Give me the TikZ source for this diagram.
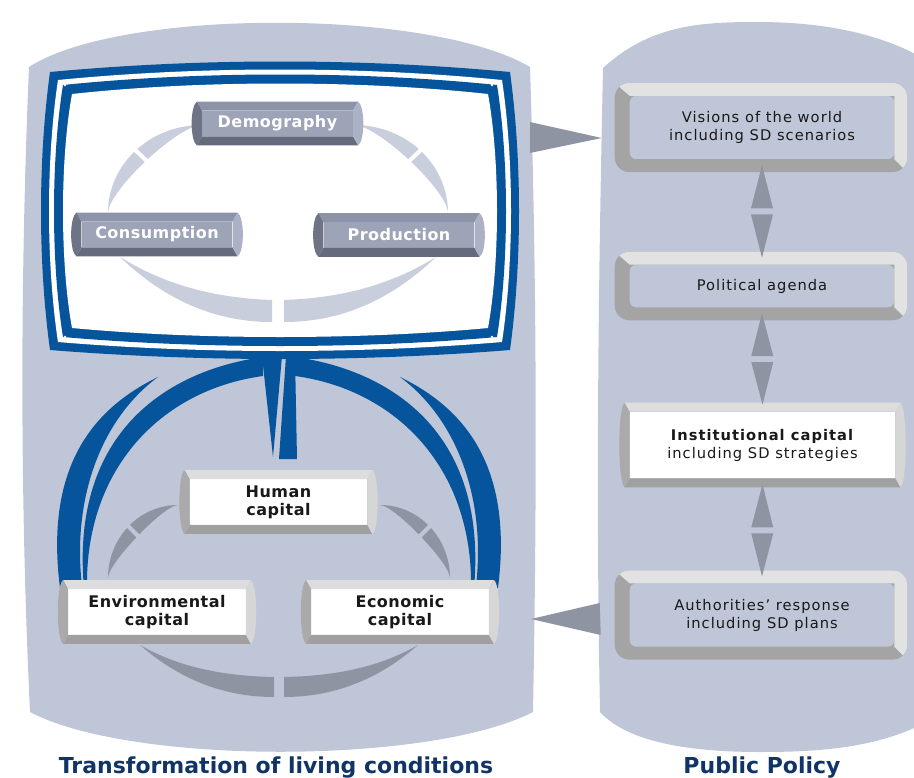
\documentclass[tikz,border=0pt]{standalone}
\usepackage{fontspec}
\setmainfont{DejaVu Sans}
\newfontfamily\boxfont{DejaVu Sans}[LetterSpace=7]
\newfontfamily\capfont{DejaVu Sans}[LetterSpace=3]
\usepackage{tikz}
\usetikzlibrary{calc, positioning}
\definecolor{panel}{RGB}{191,198,216}
\definecolor{frameblue}{RGB}{6,84,156}
\definecolor{lightarc}{RGB}{201,206,221}
\definecolor{arrowgray}{RGB}{143,148,163}
\definecolor{darkface}{RGB}{157,164,184}
\definecolor{darktop}{RGB}{141,148,169}
\definecolor{darkbottom}{RGB}{101,106,125}
\definecolor{darkleft}{RGB}{110,115,134}
\definecolor{darkright}{RGB}{172,178,197}
\definecolor{bevtop}{RGB}{221,221,221}
\definecolor{bevbottom}{RGB}{160,160,160}
\definecolor{bevleft}{RGB}{170,170,170}
\definecolor{bevright}{RGB}{214,214,214}
\definecolor{ringlight}{RGB}{226,226,226}
\definecolor{ringdark}{RGB}{164,164,164}
\definecolor{titleblue}{RGB}{16,52,102}
\tikzstyle{block} = [rectangle, inner sep=0pt, align=center, text=black!90, font=\boxfont\fontsize{11}{13.5}\selectfont]
\tikzstyle{darkblock} = [block, fill=darkface, text=white, minimum width=113pt, minimum height=19pt, font=\capfont\bfseries\fontsize{12}{13.5}\selectfont]
\tikzstyle{capital} = [block, fill=white, minimum width=133pt, minimum height=34pt, font=\capfont\bfseries\fontsize{12}{13.5}\selectfont]
\tikzstyle{ringbox} = [block, fill=panel, rounded corners=4.5pt, minimum width=198pt, minimum height=47pt]
\tikzstyle{wedge} = [fill=arrowgray]
\tikzstyle{caption} = [anchor=base, text=titleblue, font=\fontsize{16.5}{20}\selectfont\bfseries]
% Screen outline, #1 = inset.
\newcommand{\screenpath}[1]{(50+#1,72+#1) .. controls (200,58+#1) and (360,58+#1) .. (510-#1,72+#1)
  .. controls (522-#1,160) and (522-#1,262) .. (510-#1,350-#1)
  .. controls (360,362-#1) and (200,362-#1) .. (50+#1,350-#1)
  .. controls (38+#1,262) and (38+#1,160) .. cycle}
% Bevel round a block node: top, bottom, left, right colours.
\newcommand{\bevelframe}[5]{%
  \path ([shift={(-5,-9)}]#1.north west) coordinate (bevel tl)
        ([shift={(5,-9)}]#1.north east) coordinate (bevel tr)
        ([shift={(5,9)}]#1.south east) coordinate (bevel br)
        ([shift={(-5,9)}]#1.south west) coordinate (bevel bl);
  \fill[#2] (bevel tl) -- (bevel tr) -- (#1.north east) -- (#1.north west) -- cycle;
  \fill[#3] (bevel bl) -- (bevel br) -- (#1.south east) -- (#1.south west) -- cycle;
  \fill[#4] (bevel tl) -- (#1.north west) -- (#1.south west) -- (bevel bl)
    .. controls ([shift={(-7,-5)}]bevel bl) and ([shift={(-7,5)}]bevel tl) .. cycle;
  \fill[#5] (bevel tr) -- (#1.north east) -- (#1.south east) -- (bevel br)
    .. controls ([shift={(7,-5)}]bevel br) and ([shift={(7,5)}]bevel tr) .. cycle;
}
% Rounded ring round a policy box.
\newcommand{\ringframe}[1]{%
  \fill[ringdark, even odd rule, rounded corners=11pt]
    ([shift={(-15,-13)}]#1.north west) rectangle ([shift={(13,13)}]#1.south east)
    [rounded corners=4.5pt] (#1.north west) rectangle (#1.south east);
  \begin{scope}
    \clip[rounded corners=11pt] ([shift={(-15,-13)}]#1.north west) rectangle ([shift={(13,13)}]#1.south east);
    \fill[ringlight] ([shift={(-15,-13)}]#1.north west) -- ([shift={(13,-13)}]#1.north east)
      -- ([shift={(13,13)}]#1.south east) -- (#1.south east) -- (#1.north east) -- (#1.north west) -- cycle;
  \end{scope}
}
% Half of the light arcs inside the screen.
\newcommand{\screenarcs}{%
  \fill[lightarc] (202,125) .. controls (150,125) and (108,164) .. (108,213) .. controls (108,191) and (178,125) .. cycle;
  \draw[white, line width=3pt] (131,146) -- (151,165);
  \fill[lightarc] (120,257) .. controls (165,300) and (215,322) .. (272,322) -- (272,300) .. controls (215,298) and (165,285) .. cycle;
}
% Half of the gray arcs between the capitals.
\newcommand{\capitalarcs}{%
  \fill[arrowgray] (178,505) .. controls (139,505) and (108,538) .. (108,578) .. controls (108,563) and (164,505) .. cycle;
  \draw[panel, line width=3pt] (124,522) -- (143,541);
  \fill[arrowgray] (140,645) .. controls (180,680) and (225,697) .. (274,697) -- (274,677) .. controls (225,676) and (180,668) .. cycle;
}
% Half of the blue links.
\newcommand{\bluearcs}{%
  \fill[frameblue] (158,377) .. controls (90,410) and (45,470) .. (60,588) -- (82,586) .. controls (72,500) and (100,420) .. cycle;
  \fill[frameblue] (263,357) .. controls (170,370) and (70,430) .. (84,588) -- (87,588) .. controls (85,470) and (160,390) .. (263,376) -- cycle;
}
\begin{document}
\begin{tikzpicture}[x=0.75pt, y=-0.75pt]
    \useasboundingbox (0,0) rectangle (914,778);
    \clip (0,0) rectangle (914,778);

    % Panels.
    \fill[panel] (29,67) .. controls (120,8) and (430,8) .. (530,67) .. controls (537,280) and (537,500) .. (533,712)
        .. controls (430,765) and (130,765) .. (30,712) .. controls (20,500) and (20,280) .. cycle;
    \fill[panel] (603,68) .. controls (650,25) and (700,22) .. (757,22) .. controls (820,22) and (880,32) .. (930,62)
        -- (930,720) .. controls (880,748) and (820,752) .. (760,752) .. controls (700,752) and (630,745) .. (600,712)
        .. controls (596,500) and (598,300) .. cycle;

    % Screen.
    \fill[frameblue] \screenpath{0};
    \fill[white] \screenpath{8};
    \fill[frameblue] \screenpath{13};
    \fill[white] \screenpath{22};
    \foreach \p in {(65,85), (492,85), (65,337), (492,337)}
        \fill[white] \p circle (1.3);

    \screenarcs
    \begin{scope}[xshift=417pt, xscale=-1]
        \screenarcs
    \end{scope}

    \node (demography) [darkblock] at (277.5,123.5) {Demography};
    \node (consumption) [darkblock] at (157,234.5) {Consumption};
    \node (production) [darkblock] at (399,235) {Production};
    \foreach \n in {demography, consumption, production} {
        \bevelframe{\n}{darktop}{darkbottom}{darkleft}{darkright}
    }

    % Blue links.
    \bluearcs
    \begin{scope}[xshift=418.5pt, xscale=-1]
        \bluearcs
    \end{scope}
    \fill[frameblue] (262,356) -- (282,356) -- (273,457) -- cycle;
    \fill[frameblue] (286,356) -- (295,356) -- (297,459) -- (279,459) -- cycle;

    \capitalarcs
    \begin{scope}[xshift=418.5pt, xscale=-1]
        \capitalarcs
    \end{scope}

    \node (human) [capital] at (278.5,502) {Human\\capital};
    \node (environmental) [capital] at (157,612) {Environmental\\capital};
    \node (economic) [capital] at (400,612) {Economic\\capital};
    \node (institutional) [block, fill=white, minimum width=199pt, minimum height=49.5pt] at (762.5,445)
        {\textbf{Institutional capital}\\including SD strategies};
    \foreach \n in {human, environmental, economic, institutional} {
        \bevelframe{\n}{bevtop}{bevbottom}{bevleft}{bevright}
    }

    % Policy boxes.
    \node (visions) [ringbox] at (762,127.5) {Visions of the world\\including SD scenarios};
    \node (agenda) [ringbox, minimum height=31.5pt] at (762,286) {Political agenda};
    \node (response) [ringbox] at (762,615) {Authorities’ response\\including SD plans};
    \foreach \n in {visions, agenda, response} {
        \ringframe{\n}
    }

    % Arrows.
    \foreach \a/\b in {visions/agenda, agenda/institutional, institutional/response} {
        \path ([shift={(0,6)}]\a.south) coordinate (up tip)
              ([shift={(0,-7)}]\b.north) coordinate (down tip);
        \coordinate (mid) at ($(up tip)!0.5!(down tip)$);
        \fill[wedge] (up tip) -- ([shift={(11,-3)}]mid) -- ([shift={(-11,-3)}]mid) -- cycle;
        \fill[wedge] (down tip) -- ([shift={(11,3)}]mid) -- ([shift={(-11,3)}]mid) -- cycle;
    }
    \coordinate (screen edge) at (530,137.5);
    \fill[wedge] ([yshift=11.6pt]screen edge) -- ([yshift=-11.6pt]screen edge) -- ([shift={(-28,10.5)}]visions.west) -- cycle;
    \coordinate (capital edge) at (531,619);
    \fill[wedge] ([shift={(-30,-12)}]response.west) -- ([shift={(-29,20)}]response.west) -- (capital edge) -- cycle;

    \node (transformation) [caption] at (276,773) {Transformation of living conditions};
    \node (policy) [caption] at (762,773) {Public Policy};
\end{tikzpicture}
\end{document}
